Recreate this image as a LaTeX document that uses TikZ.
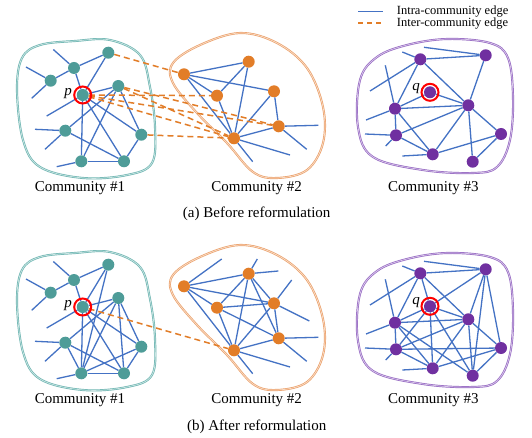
\documentclass[tikz,border=0pt]{standalone}
\usepackage{fontspec}
\setmainfont{Liberation Serif}
\definecolor{edgeblue}{RGB}{68,114,196}
\definecolor{tealn}{RGB}{78,156,152}
\definecolor{tealb}{RGB}{110,182,178}
\definecolor{orn}{RGB}{226,125,40}
\definecolor{orb}{RGB}{236,160,105}
\definecolor{purn}{RGB}{112,48,160}
\definecolor{purb}{RGB}{150,105,195}
\tikzset{
  intra/.style={draw=edgeblue, line width=1.3pt},
  inter/.style={draw=orn, line width=1.5pt, dash pattern=on 6pt off 4pt},
  gnode/.style={circle, inner sep=0pt, minimum size=12pt},
  tealnode/.style={gnode, fill=tealn},
  orgnode/.style={gnode, fill=orn},
  purnode/.style={gnode, fill=purn},
  tblob/.style={draw=tealb, double=tealb!35, double distance=0.7pt, line width=0.7pt},
  oblob/.style={draw=orb, double=orb!35, double distance=0.7pt, line width=0.7pt},
  pblob/.style={draw=purb, double=purb!35, double distance=0.7pt, line width=0.7pt},
  ring/.style={circle, draw=red, line width=2pt, minimum size=17pt, inner sep=0pt},
  lbl/.style={font=\fontsize{15}{18}\selectfont, inner sep=0pt},
  leg/.style={font=\fontsize{12.5}{14}\selectfont, inner sep=0pt, anchor=west},
}
\begin{document}
\begin{tikzpicture}[x=1pt,y=-1pt]
\useasboundingbox (0,0) rectangle (532,438);
\fill[white] (0,0) rectangle (532,438);

\foreach \p/\dy/\dr in {a/0/0,b/212/214}{
  \begin{scope}[shift={(0,\dy)}]
    \draw[tblob] plot[smooth cycle,tension=0.6] coordinates {(22,58) (40,45) (75,41) (110,40) (140,55) (150,87) (155,127) (152,163) (127,175) (83,178) (40,167) (23,140) (17,90)};
    \draw[oblob] plot[smooth cycle,tension=0.6] coordinates {(173,63) (200,45) (240,33) (277,43) (307,68) (323,107) (323,143) (307,170) (277,178) (253,172) (227,143) (197,113) (173,83)};
    % community 1
    \node[tealnode] (\p A) at (108.3,52.7) {};
    \node[tealnode] (\p B) at (74,68) {};
    \node[tealnode] (\p C) at (50.7,80.7) {};
    \node[tealnode] (\p P) at (82.7,95) {};
    \node[tealnode] (\p D) at (118.3,86) {};
    \node[tealnode] (\p E) at (65.3,130.7) {};
    \node[tealnode] (\p F) at (141.3,134.7) {};
    \node[tealnode] (\p G) at (81.3,161.3) {};
    \node[tealnode] (\p H) at (124,161.3) {};
    \coordinate (\p sa) at (53.3,49.5);
    \coordinate (\p sb) at (26,67);
    \coordinate (\p sc) at (31.7,98.3);
    \coordinate (\p sd) at (46.7,116);
    \coordinate (\p se) at (35,129.3);
    \coordinate (\p sf) at (45,149.3);
    \coordinate (\p sg) at (56.7,166.7);
    \node[lbl] (\p plab) at (68,94) {\textit{p}};
    % community 2
    \node[orgnode] (\p O1) at (184,74.3) {};
    \node[orgnode] (\p O2) at (248.7,61.7) {};
    \node[orgnode] (\p O3) at (217,95.7) {};
    \node[orgnode] (\p O4) at (274,91.3) {};
    \node[orgnode] (\p O5) at (278.7,126.3) {};
    \node[orgnode] (\p O6) at (234,138.3) {};
    \coordinate (\p ma) at (318.3,125.3);
    \coordinate (\p mb) at (306.7,149.3);
    \coordinate (\p mc) at (290,155);
    \coordinate (\p md) at (252.7,161.7);
    \node[lbl] (\p cone) at (80,188.3) {Community \#1};
    \node[lbl] (\p ctwo) at (256.7,188.3) {Community \#2};
  \end{scope}
  \begin{scope}[shift={(0,\dr)}]
    \draw[pblob] plot[smooth cycle,tension=0.6] coordinates {(360,80) (377,57) (407,45) (447,39) (490,43) (508,58) (513,97) (510,140) (497,167) (473,173) (423,170) (373,157) (358,127)};
    \node[purnode] (\p R1) at (420.3,59.3) {};
    \node[purnode] (\p R2) at (485.7,55.3) {};
    \node[purnode] (\p Rq) at (430,92.3) {};
    \node[purnode] (\p R3) at (395,108.7) {};
    \node[purnode] (\p R4) at (468.3,105.3) {};
    \node[purnode] (\p R5) at (396,135.3) {};
    \node[purnode] (\p R6) at (501,134) {};
    \node[purnode] (\p R7) at (432.7,154.3) {};
    \node[purnode] (\p R8) at (472.7,161.7) {};
    \coordinate (\p ra) at (402.3,52);
    \coordinate (\p rb) at (424,47.3);
    \coordinate (\p rc) at (370,91);
    \coordinate (\p rd) at (385.3,65.3);
    \coordinate (\p re) at (366,120);
    \coordinate (\p rf) at (365,134);
    \coordinate (\p rg) at (385.7,146);
    \coordinate (\p rh) at (402.3,156);
    \node[lbl] (\p qlab) at (416,89) {\textit{q}};
  \end{scope}
  \node[lbl] (\p cthree) at (433.3,188.3+\dy) {Community \#3};
  \foreach \u/\v in {A/B, B/C, sa/B, sb/C, C/sc, A/P, B/P, P/D, P/sd, P/G, P/H, P/F, D/F, D/E, D/G, E/se, E/sf, G/H, F/H, G/sg, E/H,
     O1/O2, O1/O3, O1/O4, O1/O6, O3/O2, O3/O6, O2/O6, O4/O6, O4/O5, O6/O5, O5/ma, O5/mb, O6/mc, O6/md,
     R1/R2, rb/R2, ra/R1, R1/R3, R1/rc, R1/R4, R2/R4, Rq/R4, Rq/R3, R3/R4, rd/R3, re/R3, R3/R5, R3/R7, R4/R5, R4/R7, R4/R8, R4/R6, rf/R5, rg/R5, R5/R7, R7/R6, R8/R6, rh/R7}{
    \draw[intra] (\p\u) -- (\p\v);
  }
}

% extra intra edges after reformulation
\coordinate (bmE) at (221.7,259);
\coordinate (bmF) at (257.3,259);
\coordinate (bmG) at (278.3,271);
\coordinate (bmH) at (291.7,280);
\coordinate (bmI) at (309.3,321);
\foreach \u/\v in {A/G, D/H, E/G, F/G,
   O1/mE, O2/mF, O2/mG, O2/O4, O2/O5, O3/O4, O3/O5, O4/mH, O4/mI,
   R1/Rq, R2/Rq, R2/R8, R2/R6, Rq/R7, Rq/R8, Rq/R5, R5/R6, R3/R8}{
  \draw[intra] (b\u) -- (b\v);
}

% inter-community edges
\foreach \u/\v in {A/O1, P/O3, P/O5, P/O6, D/O5, D/O6, F/O6}{
  \draw[inter] (a\u) -- (a\v);
}
\draw[inter] (bP) -- (bO6);

% rings
\node[ring] (aringp) at (aP) {};
\node[ring] (aringq) at (aRq) {};
\node[ring] (bringp) at (bP) {};
\node[ring] (bringq) at (bRq) {};

% captions
\node[lbl] (capa) at (256.7,214) {(a) Before reformulation};
\node[lbl] (capb) at (256.7,426.7) {(b) After reformulation};

% legend
\coordinate (lg1a) at (358.3,11.6);
\coordinate (lg1b) at (383.3,11.6);
\coordinate (lg2a) at (358.3,23.2);
\coordinate (lg2b) at (383.3,23.2);
\draw[intra] (lg1a) -- (lg1b);
\draw[inter, dash pattern=on 5pt off 4pt] (lg2a) -- (lg2b);
\node[leg] (lgt1) at (396.7,11.6) {Intra-community edge};
\node[leg] (lgt2) at (396.7,23.2) {Inter-community edge};
\end{tikzpicture}
\end{document}
